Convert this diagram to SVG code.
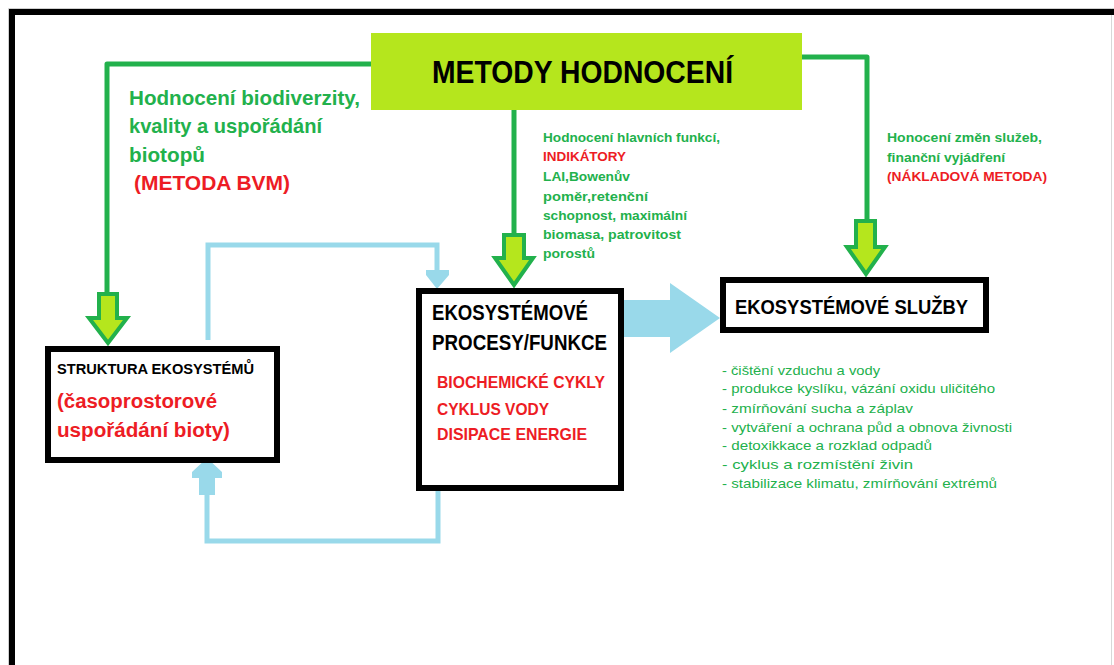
<svg xmlns="http://www.w3.org/2000/svg" width="1114" height="665" viewBox="0 0 1114 665">
<defs>
<style>
text{font-family:"Liberation Sans",Arial,sans-serif;}
.b{font-weight:bold;}
.g{fill:#22b14c;}
.r{fill:#ed1c24;}
.k{fill:#000;}
.box{fill:#fff;stroke:#000;stroke-width:6;}
.gl{fill:none;stroke:#22b14c;stroke-width:5;stroke-linejoin:round;stroke-linecap:round;}
.bl{fill:none;stroke:#99d9ea;stroke-width:5;stroke-linejoin:miter;}
.ga{fill:#b5e61d;stroke:#22b14c;stroke-width:4;stroke-linejoin:miter;}
.ba{fill:#99d9ea;}
</style>
</defs>
<rect width="1114" height="665" fill="#fff"/>
<path d="M8.5,665 V8.5 H1114" fill="none" stroke="#cfcfcf" stroke-width="1"/>
<path d="M1111.5,8 V665" fill="none" stroke="#d8d8d8" stroke-width="1"/>
<path d="M12,665 V12 H1114" fill="none" stroke="#000" stroke-width="6"/>

<g id="connectors">
<path class="gl" d="M372,64 H107 V294"/>
<path class="gl" d="M514,110 V235"/>
<path class="gl" d="M802,57 H867 V221"/>
<polygon class="ga" points="99,294 117,294 117,318 127,318 108,343 89,318 99,318"/>
<polygon class="ga" points="504,235 524,235 524,258 533,258 514,285 495,258 504,258"/>
<polygon class="ga" points="856,221 875,221 875,247 885,247 866,274 847,247 856,247"/>
<path class="bl" d="M208,340 V245 H437 V272"/>
<polygon class="ba" points="426,270 449,270 449,275 437,289 426,275"/>
<path class="bl" d="M438,491 V541 H207 V494"/>
<polygon class="ba" points="207,458 222,472 222,478 215,478 215,495 199,495 199,478 192,478 192,472"/>
<polygon class="ba" points="624,300 670,300 670,283 720,318 670,353 670,337 624,337"/>
</g>

<g id="metody">
<rect x="371" y="33" width="431" height="77" fill="#b5e61d"/>
<text x="432" y="83" class="b k" font-size="31" textLength="301" lengthAdjust="spacingAndGlyphs">METODY HODNOCENÍ</text>
</g>

<g id="label-biodiverzita">
<text x="129" y="105" class="b g" font-size="21" textLength="231" lengthAdjust="spacingAndGlyphs">Hodnocení biodiverzity,</text>
<text x="129" y="133" class="b g" font-size="21" textLength="193" lengthAdjust="spacingAndGlyphs">kvality a uspořádání</text>
<text x="129" y="162" class="b g" font-size="21" textLength="76" lengthAdjust="spacingAndGlyphs">biotopů</text>
<text x="134" y="190" class="b r" font-size="21" textLength="156" lengthAdjust="spacingAndGlyphs">(METODA BVM)</text>
</g>

<g id="label-funkce">
<text x="543" y="142" class="b g" font-size="13.5" textLength="177" lengthAdjust="spacingAndGlyphs">Hodnocení hlavních funkcí,</text>
<text x="543" y="161" class="b r" font-size="13.5" textLength="83" lengthAdjust="spacingAndGlyphs">INDIKÁTORY</text>
<text x="543" y="181" class="b g" font-size="13.5" textLength="87" lengthAdjust="spacingAndGlyphs">LAI,Bowenův</text>
<text x="543" y="201" class="b g" font-size="13.5" textLength="105" lengthAdjust="spacingAndGlyphs">poměr,retenční</text>
<text x="543" y="220" class="b g" font-size="13.5" textLength="144" lengthAdjust="spacingAndGlyphs">schopnost, maximální</text>
<text x="543" y="239" class="b g" font-size="13.5" textLength="138" lengthAdjust="spacingAndGlyphs">biomasa, patrovitost</text>
<text x="543" y="258" class="b g" font-size="13.5" textLength="52" lengthAdjust="spacingAndGlyphs">porostů</text>
</g>

<g id="label-sluzby">
<text x="887" y="142" class="b g" font-size="13.5" textLength="155" lengthAdjust="spacingAndGlyphs">Honocení změn služeb,</text>
<text x="887" y="162" class="b g" font-size="13.5" textLength="118" lengthAdjust="spacingAndGlyphs">finanční vyjádření</text>
<text x="887" y="181" class="b r" font-size="13.5" textLength="160" lengthAdjust="spacingAndGlyphs">(NÁKLADOVÁ METODA)</text>
</g>

<g id="struktura">
<rect class="box" x="48" y="349" width="229" height="111"/>
<text x="57" y="374" class="b k" font-size="15" textLength="197" lengthAdjust="spacingAndGlyphs">STRUKTURA EKOSYSTÉMŮ</text>
<text x="57" y="408" class="b r" font-size="20" textLength="160" lengthAdjust="spacingAndGlyphs">(časoprostorové</text>
<text x="57" y="437" class="b r" font-size="20" textLength="173" lengthAdjust="spacingAndGlyphs">uspořádání bioty)</text>
</g>

<g id="procesy">
<rect class="box" x="419" y="291" width="202" height="197"/>
<text x="432" y="320" class="b k" font-size="22" textLength="156" lengthAdjust="spacingAndGlyphs">EKOSYSTÉMOVÉ</text>
<text x="432" y="350" class="b k" font-size="22" textLength="175" lengthAdjust="spacingAndGlyphs">PROCESY/FUNKCE</text>
<text x="437" y="388" class="b r" font-size="17" textLength="168" lengthAdjust="spacingAndGlyphs">BIOCHEMICKÉ CYKLY</text>
<text x="437" y="415" class="b r" font-size="17" textLength="112" lengthAdjust="spacingAndGlyphs">CYKLUS VODY</text>
<text x="437" y="440" class="b r" font-size="17" textLength="150" lengthAdjust="spacingAndGlyphs">DISIPACE ENERGIE</text>
</g>

<g id="sluzby">
<rect class="box" x="723" y="280" width="263" height="50"/>
<text x="735" y="314" class="b k" font-size="19.5" textLength="233" lengthAdjust="spacingAndGlyphs">EKOSYSTÉMOVÉ SLUŽBY</text>
</g>

<g id="seznam-sluzeb">
<text x="722" y="375" class="g" font-size="13.5" textLength="158" lengthAdjust="spacingAndGlyphs">- čištění vzduchu a vody</text>
<text x="722" y="393" class="g" font-size="13.5" textLength="273" lengthAdjust="spacingAndGlyphs">- produkce kyslíku, vázání oxidu uličitého</text>
<text x="722" y="413" class="g" font-size="13.5" textLength="191" lengthAdjust="spacingAndGlyphs">- zmírňování sucha a záplav</text>
<text x="722" y="432" class="g" font-size="13.5" textLength="290" lengthAdjust="spacingAndGlyphs">- vytváření a ochrana půd a obnova živnosti</text>
<text x="722" y="450" class="g" font-size="13.5" textLength="210" lengthAdjust="spacingAndGlyphs">- detoxikkace a rozklad odpadů</text>
<text x="722" y="469" class="g" font-size="13.5" textLength="191" lengthAdjust="spacingAndGlyphs">- cyklus a rozmístění živin</text>
<text x="722" y="488" class="g" font-size="13.5" textLength="275" lengthAdjust="spacingAndGlyphs">- stabilizace klimatu, zmírňování extrémů</text>
</g>
</svg>
